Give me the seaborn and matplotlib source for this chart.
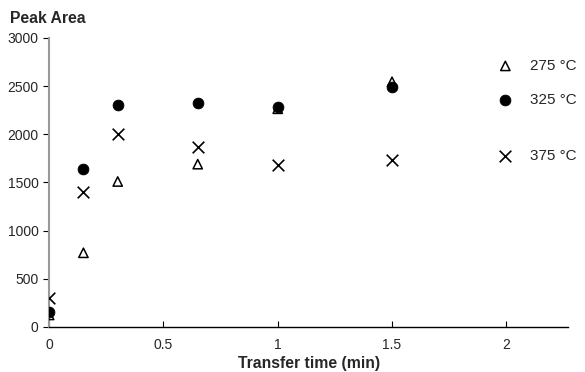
import matplotlib
matplotlib.use("Agg")
import matplotlib.pyplot as plt
import numpy as np
import pandas as pd
import seaborn as sns

# transfer time (min)
time = [0, 0.15, 0.3, 0.65, 1.0, 1.5]
# peak areas per desorption temperature
area_275 = [125, 770, 1510, 1690, 2265, 2545]
area_325 = [160, 1640, 2300, 2320, 2280, 2490]
area_375 = [300, 1400, 2000, 1870, 1680, 1730]

labels = ["275 °C", "325 °C", "375 °C"]
xticks = [0, 0.5, 1, 1.5, 2]
yticks = [0, 500, 1000, 1500, 2000, 2500, 3000]

sns.set_style("white")
plt.rcParams['font.family'] = ['Liberation Sans', 'DejaVu Sans']

fig = plt.figure(figsize=(5.85, 3.72), dpi=100)
ax = fig.add_axes([0.084, 0.121, 0.887, 0.777])

sns.scatterplot(x=time, y=area_275, ax=ax, marker="^", s=45, facecolor="none",
                edgecolor="black", linewidth=1.1, label=labels[0], zorder=3)
sns.scatterplot(x=time, y=area_325, ax=ax, marker="o", s=60, color="black",
                edgecolor="black", label=labels[1], zorder=4)
sns.scatterplot(x=time, y=area_375, ax=ax, marker="x", s=70, color="black",
                linewidth=1.2, label=labels[2], zorder=5)

ax.set_xlim(0, 2.27)
ax.set_ylim(0, 3000)
ax.set_xticks(xticks)
ax.set_xticklabels(["0", "0.5", "1", "1.5", "2"])
ax.set_yticks(yticks)
ax.tick_params(axis="y", direction="out", length=4, width=0.8, color="black", labelsize=10, left=True)
ax.tick_params(axis="x", direction="in", length=4, width=0.8, color="black", labelsize=10, bottom=True, pad=8)

for s in ["top", "right"]:
    ax.spines[s].set_visible(False)
ax.spines["left"].set_color("#999999")
ax.spines["left"].set_linewidth(1.5)
ax.spines["bottom"].set_color("black")
ax.spines["bottom"].set_linewidth(1.0)

ax.set_xlabel("Transfer time (min)", fontsize=11.3, fontweight="bold", labelpad=3)
ax.set_ylabel("")
fig.text(0.017, 0.95, "Peak Area", fontsize=11.3, fontweight="bold", ha="left", va="center")

# legend: first two entries close together, third set apart
handles, texts = ax.get_legend_handles_labels()
leg1 = ax.legend(handles[:2], texts[:2], loc="upper left", bbox_to_anchor=(0.835, 0.975),
                 frameon=False, fontsize=11, labelspacing=1.3, handletextpad=1.0, handlelength=1.2)
ax.add_artist(leg1)
ax.legend(handles[2:], texts[2:], loc="upper left", bbox_to_anchor=(0.835, 0.665),
          frameon=False, fontsize=11, handletextpad=1.0, handlelength=1.2)

fig.savefig("out.png", dpi=100)
